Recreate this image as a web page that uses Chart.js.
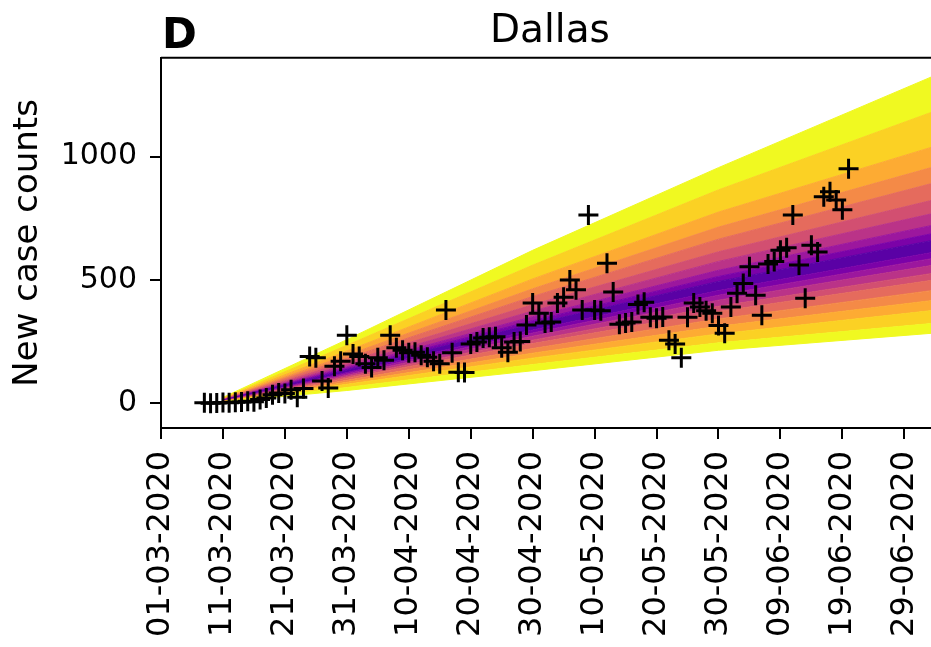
<!DOCTYPE html>
<html lang="en">
<head>
<meta charset="UTF-8">
<title>Dallas</title>
<script src="https://cdn.jsdelivr.net/npm/chart.js"></script>
<style>
  html, body { margin: 0; padding: 0; overflow: hidden; background: #fff; }
  #wrap { width: 952px; height: 647px; }
</style>
</head>
<body>
<div id="wrap"><canvas id="dallasChart" width="952" height="647"></canvas></div>
<script>
// days are counted from 01-03-2020
const firstCaseDay = 7;
const caseCounts = [
  2, 0, 1, 3, 2, 4, 5, 8, 6, 15,
  22, 35, 42, 40, 55, 25, 60, 190, 185, 90,
  62, 150, 170, 276, 200, 190, 160, 145, 185, 175,
  276, 225, 215, 205, 207, 195, 187, 170, 160, 378,
  205, 126, 125, 240, 248, 265, 268, 270, 225, 207,
  248, 250, 317, 406, 365, 325, 330, 406, 430, 500,
  460, 378, 763, 378, 375, 568, 451, 320, 325, 330,
  400, 410, 349, 345, 350, 256, 240, 185, 349, 406,
  390, 375, 365, 315, 284, 390, 446, 485, 553, 438,
  357, 565, 575, 620, 630, 763, 560, 426, 640, 613,
  837, 857, 824, 784, 950
];

const xTickDays = [0, 10, 20, 30, 40, 50, 60, 70, 80, 90, 100, 110, 120];
const xTickLabels = ['01-03-2020', '11-03-2020', '21-03-2020', '31-03-2020', '10-04-2020',
  '20-04-2020', '30-04-2020', '10-05-2020', '20-05-2020', '30-05-2020',
  '09-06-2020', '19-06-2020', '29-06-2020'];
const yTicks = [0, 500, 1000];

// forecast fan: band edges at these days, innermost band first
const fanDays = [10, 30, 60, 90, 126];
const fanUpper = [
  [12, 135, 321, 494, 667],
  [13, 141, 335, 514, 695],
  [13, 148, 351, 539, 729],
  [14, 157, 374, 575, 777],
  [15, 168, 400, 614, 832],
  [16, 182, 433, 665, 901],
  [17, 195, 464, 714, 967],
  [19, 212, 504, 775, 1050],
  [21, 235, 560, 865, 1194],
  [24, 258, 620, 955, 1340]
];
const fanLower = [
  [10, 125, 297, 457, 618],
  [10, 120, 285, 438, 593],
  [9, 114, 272, 418, 565],
  [9, 108, 256, 393, 532],
  [8, 102, 242, 372, 504],
  [8, 93, 222, 342, 462],
  [7, 85, 203, 312, 421],
  [7, 77, 183, 281, 380],
  [6, 64, 157, 245, 327],
  [5, 52, 132, 215, 287]
];
const bandColors = ['#5a01a5', '#7b02a8', '#9c179e', '#ba3388', '#d24f71',
  '#e56b5d', '#f48a47', '#fdab33', '#fbd124', '#f0f921'];

// edges from the outer lower one up to the outer upper one
const edges = fanLower.slice().reverse().concat(fanUpper);
const datasets = edges.map(function (edge, i) {
  const color = bandColors[i <= 10 ? 10 - i : i - 10] || bandColors[9];
  return {
    type: 'line',
    data: fanDays.map((d, j) => ({ x: d, y: edge[j] })),
    borderColor: color,
    borderWidth: 1,
    backgroundColor: color,
    pointRadius: 0,
    tension: 0,
    fill: i === 0 ? false : i - 1,
    order: 1
  };
});

datasets.push({
  type: 'scatter',
  data: caseCounts.map((v, i) => ({ x: firstCaseDay + i, y: v })),
  pointStyle: 'cross',
  pointRadius: 10,
  pointBorderWidth: 3,
  borderColor: '#000',
  backgroundColor: '#000',
  showLine: false,
  order: 0
});

const frameAndLabel = {
  id: 'frameAndLabel',
  afterDraw(chart) {
    const { ctx, chartArea: a } = chart;
    ctx.save();
    ctx.strokeStyle = '#000';
    ctx.lineWidth = 2;
    ctx.beginPath();
    ctx.moveTo(a.left, a.top);
    ctx.lineTo(a.right, a.top);
    ctx.stroke();
    ctx.fillStyle = '#000';
    ctx.font = 'bold 42px "DejaVu Sans"';
    ctx.textBaseline = 'alphabetic';
    ctx.fillText('D', a.left + 1, 48);
    ctx.restore();
  }
};

const font = 'DejaVu Sans';
new Chart(document.getElementById('dallasChart'), {
  type: 'line',
  data: { datasets: datasets },
  plugins: [frameAndLabel],
  options: {
    responsive: false,
    animation: false,
    layout: { padding: 0 },
    plugins: {
      legend: { display: false },
      tooltip: { enabled: false },
      title: {
        display: true,
        text: 'Dallas',
        fullSize: false,
        color: '#000',
        font: { family: font, size: 39, weight: 'normal' },
        padding: { top: 8, bottom: 3 }
      }
    },
    scales: {
      x: {
        type: 'linear',
        min: 0,
        max: 125.6,
        afterBuildTicks: s => { s.ticks = xTickDays.map(v => ({ value: v })); },
        afterFit: s => { s.height = 219; s.paddingLeft = 0; s.paddingRight = 0; },
        ticks: {
          autoSkip: false,
          minRotation: 90,
          maxRotation: 90,
          padding: 12,
          color: '#000',
          font: { family: font, size: 32 },
          callback: (v, i) => xTickLabels[i]
        },
        grid: { drawOnChartArea: false, drawTicks: true, tickLength: 11, color: '#000', lineWidth: 2 },
        border: { color: '#000', width: 2 }
      },
      y: {
        type: 'linear',
        min: -100,
        max: 1400,
        afterBuildTicks: s => { s.ticks = yTicks.map(v => ({ value: v })); },
        afterFit: s => { s.width = 161; },
        ticks: {
          padding: 13,
          color: '#000',
          font: { family: font, size: 30 },
          callback: v => String(v)
        },
        grid: { drawOnChartArea: false, drawTicks: true, tickLength: 11, color: '#000', lineWidth: 2 },
        border: { color: '#000', width: 2 },
        title: {
          display: true,
          text: 'New case counts',
          color: '#000',
          font: { family: font, size: 34 },
          padding: { top: 8, bottom: 0 }
        }
      }
    }
  }
});
</script>
</body>
</html>
